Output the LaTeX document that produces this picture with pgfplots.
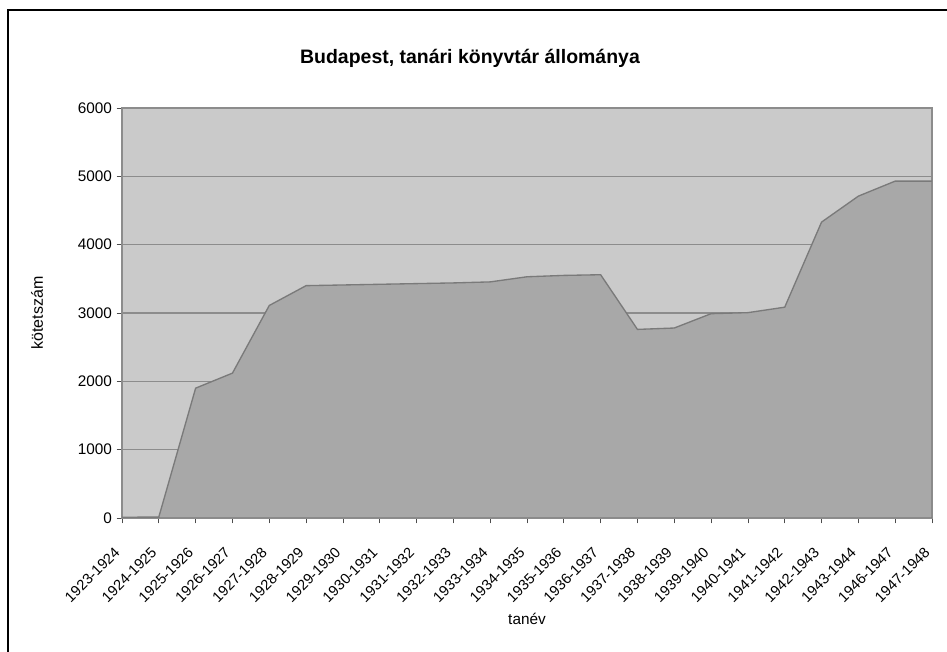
\documentclass[border=0pt]{standalone}
\usepackage{fontspec}
\setmainfont{Liberation Sans}
\usepackage{pgfplots}
\pgfplotsset{compat=1.18}
\definecolor{bgc}{HTML}{CACACA}
\definecolor{areac}{HTML}{A8A8A8}
\definecolor{linec}{HTML}{7A7A7A}
\definecolor{gridc}{HTML}{8C8C8C}
\begin{document}
\begin{tikzpicture}[x=1pt,y=1pt]
\path[use as bounding box] (0,0) rectangle (710.25,489);
\draw[black, line width=0.8pt] (6,0) -- (6,481.5) -- (710.25,481.5);
\begin{axis}[
 at={(91.5pt,100.5pt)}, anchor=south west,
 scale only axis, width=607.5pt, height=307.5pt,
 xmin=0, xmax=22, ymin=0, ymax=6000,
 axis background/.style={fill=bgc},
 axis line style={gridc, line width=0.8pt},
 ytick={0,1000,...,6000},
 xtick={0,...,22},
 xticklabels={1923-1924,1924-1925,1925-1926,1926-1927,1927-1928,1928-1929,1929-1930,1930-1931,1931-1932,1932-1933,1933-1934,1934-1935,1935-1936,1936-1937,1937-1938,1938-1939,1939-1940,1940-1941,1941-1942,1942-1943,1943-1944,1946-1947,1947-1948},
 x tick label style={xshift=-6.5pt, yshift=-17pt, rotate=45, anchor=north east, font=\fontsize{11}{13}\selectfont, inner sep=0pt},
 y tick label style={font=\fontsize{11.5}{14}\selectfont},
 ymajorgrids, grid style={gridc, line width=0.8pt},
 tick align=outside, major tick length=4pt, tick style={black!70, line width=0.6pt},
 xtick pos=bottom, ytick pos=left,
 /pgf/number format/assume math mode=true,
 scaled y ticks=false,
 yticklabel style={/pgf/number format/1000 sep={}},
]
\addplot[fill=areac, draw=linec, line width=1pt] coordinates {
(0,10) (1,15) (2,1900) (3,2120) (4,3110) (5,3400) (6,3410) (7,3420) (8,3430) (9,3440) (10,3455) (11,3530) (12,3550) (13,3560) (14,2760) (15,2780) (16,2990) (17,3005) (18,3085) (19,4330) (20,4710) (21,4930) (22,4930)
} \closedcycle;
\end{axis}
\node at (352.5,445.5) {\fontsize{14.6}{17}\selectfont\bfseries Budapest, tanári könyvtár állománya};
\node[rotate=90] at (27.75,254.25) {\fontsize{12}{14}\selectfont kötetszám};
\node at (395.25,25) {\fontsize{11.5}{14}\selectfont tanév};
\end{tikzpicture}
\end{document}
